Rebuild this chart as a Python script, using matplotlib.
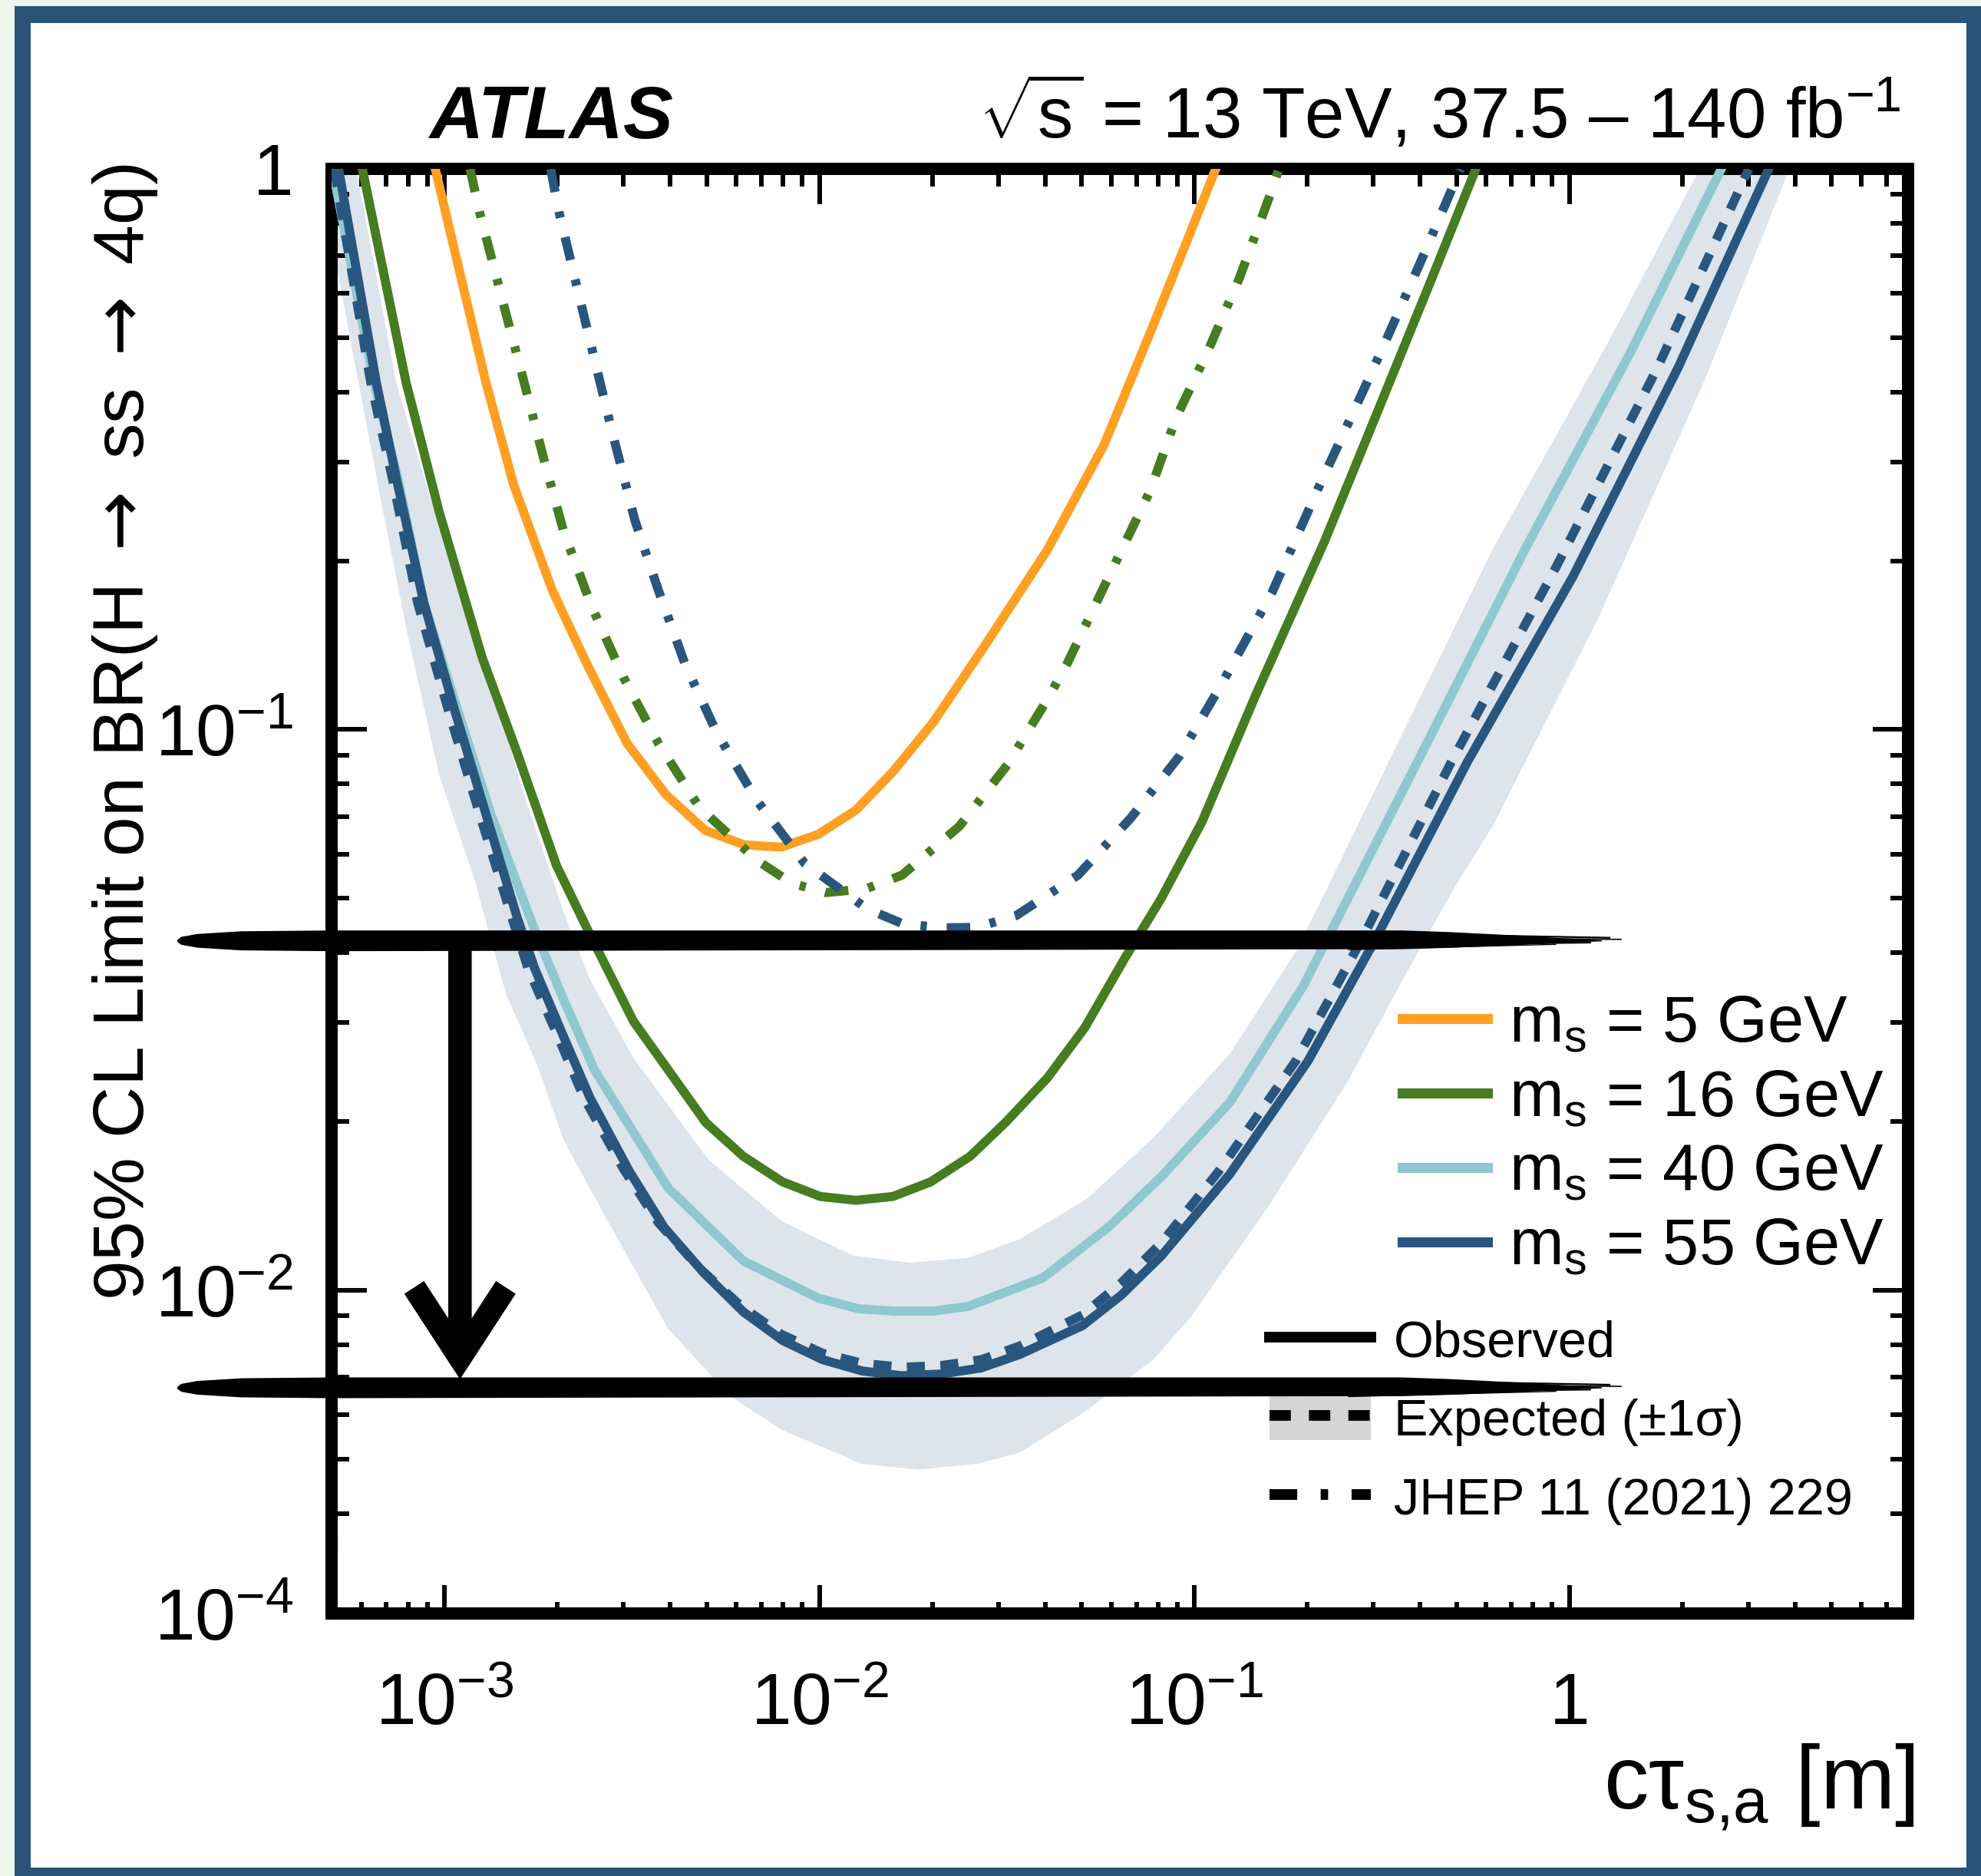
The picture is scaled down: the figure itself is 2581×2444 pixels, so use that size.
import numpy as np
import matplotlib
matplotlib.use("Agg")
import matplotlib.pyplot as plt
from matplotlib.lines import Line2D
from matplotlib.patches import Patch, Polygon, Rectangle
from matplotlib.transforms import IdentityTransform
from matplotlib.ticker import LogLocator, NullLocator, NullFormatter

plt.rcParams["font.family"] = ["Liberation Sans", "DejaVu Sans"]
plt.rcParams["mathtext.fontset"] = "custom"
plt.rcParams["mathtext.rm"] = "Liberation Sans"
plt.rcParams["mathtext.it"] = "Liberation Sans:italic"
plt.rcParams["mathtext.bf"] = "Liberation Sans:bold"
plt.rcParams["mathtext.sf"] = "DejaVu Sans"

# ---------------------------------------------------------------- data
# observed limits, m_s = 5 GeV
obs_5_x = [9.45e-4, 1.29e-3, 1.53e-3, 1.94e-3, 2.41e-3, 3.07e-3, 3.90e-3, 4.96e-3,
           6.30e-3, 7.90e-3, 9.95e-3, 1.25e-2, 1.57e-2, 2.01e-2, 2.70e-2, 4.05e-2,
           5.74e-2, 7.61e-2, 0.114]
obs_5_y = [1.0, 0.416, 0.273, 0.177, 0.130, 0.0945, 0.0765, 0.0661, 0.0623, 0.0617,
           0.0651, 0.0718, 0.0841, 0.103, 0.138, 0.209, 0.322, 0.509, 1.0]

# observed limits, m_s = 16 GeV
obs_16_x = [6.04e-4, 7.90e-4, 9.68e-4, 1.26e-3, 1.56e-3, 1.99e-3, 2.44e-3, 3.19e-3,
            4.98e-3, 6.27e-3, 7.97e-3, 1.005e-2, 1.25e-2, 1.57e-2, 1.98e-2, 2.52e-2,
            3.13e-2, 4.05e-2, 5.10e-2, 6.49e-2, 8.17e-2, 0.105, 0.146, 0.222, 0.307,
            0.425, 0.563]
obs_16_y = [1.0, 0.416, 0.2445, 0.1346, 0.0912, 0.0572, 0.0432, 0.0302, 0.0199,
            0.01733, 0.01561, 0.0147, 0.01447, 0.0147, 0.01561, 0.01733, 0.0199,
            0.0239, 0.0294, 0.0389, 0.0501, 0.0687, 0.1156, 0.2162, 0.3673, 0.6266, 1.0]

# observed limits, m_s = 40 GeV
obs_40_x = [5.03e-4, 6.49e-4, 7.54e-4, 8.81e-4, 1.08e-3, 1.33e-3, 1.72e-3, 2.07e-3,
            2.51e-3, 3.95e-3, 6.27e-3, 9.91e-3, 1.27e-2, 1.59e-2, 2.01e-2, 2.49e-2,
            3.94e-2, 5.90e-2, 8.17e-2, 0.1242, 0.1951, 0.2247, 0.4146, 0.7647, 1.464,
            2.541]
obs_40_y = [1.0, 0.416, 0.2773, 0.1684, 0.1093, 0.0707, 0.0448, 0.0332, 0.02475,
            0.01522, 0.01128, 0.00969, 0.00927, 0.00918, 0.00918, 0.00936, 0.01052,
            0.01296, 0.01596, 0.02162, 0.0349, 0.042, 0.0939, 0.2108, 0.4745, 1.0]

# observed limits, m_s = 55 GeV
obs_55_x = [5.22e-4, 6.58e-4, 7.47e-4, 8.81e-4, 1.06e-3, 1.29e-3, 1.56e-3, 1.74e-3,
            2.08e-3, 2.44e-3, 3.11e-3, 3.85e-3, 4.91e-3, 6.27e-3, 7.97e-3, 1.02e-2,
            1.30e-2, 1.66e-2, 2.11e-2, 2.70e-2, 3.43e-2, 5.03e-2, 6.39e-2, 8.17e-2,
            0.1242, 0.2008, 0.3024, 0.5346, 1.024, 1.951, 3.401]
obs_55_y = [1.0, 0.416, 0.2773, 0.1684, 0.1093, 0.0707, 0.0464, 0.0375, 0.0283,
            0.0221, 0.01632, 0.01296, 0.01075, 0.00915, 0.00814, 0.00752, 0.00718,
            0.00704, 0.00709, 0.00727, 0.00769, 0.00865, 0.00981, 0.01153, 0.01611,
            0.02564, 0.042, 0.0876, 0.188, 0.4427, 1.0]

# expected limits, m_s = 55 GeV, with the +-1 sigma envelope
exp_55_x = [5.08e-4, 6.36e-4, 7.29e-4, 8.48e-4, 1.02e-3, 1.24e-3, 1.51e-3, 1.67e-3,
            2.01e-3, 2.35e-3, 3.00e-3, 3.72e-3, 4.78e-3, 6.16e-3, 7.90e-3, 1.02e-2,
            1.30e-2, 1.66e-2, 2.11e-2, 2.70e-2, 3.43e-2, 5.03e-2, 6.39e-2, 8.17e-2,
            0.1162, 0.1862, 0.2791, 0.4843, 0.9274, 1.719, 3.009]
exp_55_y = [1.0, 0.416, 0.2773, 0.1684, 0.1093, 0.0707, 0.0464, 0.0375, 0.0283,
            0.0221, 0.01647, 0.0132, 0.01096, 0.00939, 0.00835, 0.00772, 0.00741,
            0.00729, 0.00734, 0.00752, 0.00796, 0.00904, 0.01032, 0.01216, 0.01632,
            0.02564, 0.0422, 0.0876, 0.1966, 0.4427, 1.0]
band_hi_x = [5.82e-4, 7.43e-4, 9.68e-4, 1.29e-3, 1.64e-3, 2.08e-3, 2.44e-3, 3.19e-3,
             5.05e-3, 7.97e-3, 1.23e-2, 1.75e-2, 2.49e-2, 3.43e-2, 5.17e-2, 7.72e-2,
             0.1242, 0.1879, 0.3434, 0.627, 1.283, 2.226]
band_hi_y = [1.0, 0.416, 0.2288, 0.1304, 0.0755, 0.0472, 0.0359, 0.02597, 0.01711,
             0.01325, 0.01153, 0.0112, 0.01142, 0.01235, 0.01456, 0.01863, 0.02638,
             0.0405, 0.0927, 0.2108, 0.4975, 1.0]
band_lo_x = [4.60e-4, 5.90e-4, 6.77e-4, 7.97e-4, 9.68e-4, 1.21e-3, 1.46e-3, 1.76e-3,
             2.08e-3, 2.69e-3, 3.95e-3, 5.79e-3, 7.97e-3, 1.30e-2, 1.84e-2, 2.63e-2,
             3.43e-2, 5.03e-2, 7.76e-2, 9.77e-2, 0.1579, 0.2553, 0.3667, 0.4889, 0.627,
             1.202, 2.301, 3.863]
band_lo_y = [1.0, 0.416, 0.2563, 0.148, 0.083, 0.0533, 0.0337, 0.0254, 0.01851,
             0.0135, 0.00854, 0.00647, 0.00563, 0.0049, 0.00479, 0.0049, 0.00514,
             0.00603, 0.00752, 0.00895, 0.01416, 0.02347, 0.0367, 0.0517, 0.0676,
             0.1596, 0.4222, 1.0]

# previous result (JHEP 11 (2021) 229), m_s = 16 and 55 GeV
jhep_16_x = [1.17e-3, 1.24e-3, 1.46e-3, 1.62e-3, 1.84e-3, 2.08e-3, 2.47e-3, 3.00e-3,
             3.72e-3, 4.78e-3, 6.80e-3, 8.44e-3, 1.04e-2, 1.33e-2, 1.66e-2, 2.36e-2,
             3.17e-2, 4.05e-2, 4.58e-2, 5.90e-2, 7.61e-2, 8.93e-2, 0.1088, 0.132,
             0.158, 0.168]
jhep_16_y = [1.0, 0.838, 0.5505, 0.4235, 0.304, 0.2252, 0.1658, 0.124, 0.0945, 0.0727,
             0.0585, 0.0532, 0.0512, 0.052, 0.055, 0.0672, 0.0865, 0.1131, 0.1312,
             0.1869, 0.2662, 0.3594, 0.4745, 0.6406, 0.887, 1.0]
jhep_55_x = [1.92e-3, 2.02e-3, 2.25e-3, 2.51e-3, 2.79e-3, 3.22e-3, 3.72e-3, 4.39e-3,
             5.32e-3, 6.80e-3, 9.14e-3, 1.34e-2, 1.66e-2, 2.11e-2, 2.63e-2, 3.35e-2,
             4.89e-2, 6.77e-2, 9.10e-2, 0.1162, 0.1609, 0.2154, 0.2791, 0.3276,
             0.3992, 0.5124]
jhep_55_y = [1.0, 0.838, 0.6207, 0.4583, 0.3428, 0.2361, 0.1771, 0.1304, 0.0988,
             0.0748, 0.0577, 0.0479, 0.0451, 0.0443, 0.0444, 0.0466, 0.055, 0.0696,
             0.0895, 0.1182, 0.1754, 0.2722, 0.3963, 0.5023, 0.6781, 1.0]

masses = [5, 16, 40, 55]
mass_colors = ["#ffa024", "#457d20", "#8fc8cf", "#29567f"]
x_ticks = [1e-3, 1e-2, 1e-1, 1]
x_ticklabels = [r"$10^{-3}$", r"$10^{-2}$", r"$10^{-1}$", "1"]
y_ticks = [1e-2, 1e-1, 1]
y_ticklabels = [r"$10^{-2}$", r"$10^{-1}$", "1"]

# best limits: previous round vs. this result, and where the marker sits
old_best = 0.042
new_best = 0.0067
marker_span = (1.94e-4, 1.22)
arrow_x = 1.10e-3

# ---------------------------------------------------------------- figure
W, H = 2581, 2444
fig = plt.figure(figsize=(W / 100, H / 100), dpi=100)
fig.patch.set_facecolor("#eef6ee")
frame_blue = "#2b5279"
fig.add_artist(Rectangle((19 / W, 0), 1, (H - 8) / H, transform=fig.transFigure,
                         facecolor=frame_blue, edgecolor="none", zorder=-20))
fig.add_artist(Rectangle((40 / W, (H - 2433) / H), (2562 - 40) / W, (2433 - 30) / H,
                         transform=fig.transFigure, facecolor="white",
                         edgecolor="none", zorder=-19))

left, right, top, brk, bot = 432, 2486, 220, 2014, 2102
ax = fig.add_axes([left / W, 1 - brk / H, (right - left) / W, (brk - top) / H])
axb = fig.add_axes([left / W, 1 - bot / H, (right - left) / W, (bot - brk) / H])
for a in (ax, axb):
    a.set_facecolor("none")
    a.set_xscale("log")
    a.set_yscale("log")
    a.set_xlim(5e-4, 8)
    for s in a.spines.values():
        s.set_linewidth(11.5)
        s.set_capstyle("projecting")
ax.set_ylim(0.0035, 1)
axb.set_ylim(1e-4, 1.6e-4)
ax.spines["bottom"].set_visible(False)
axb.spines["top"].set_visible(False)

# ticks
for a in (ax, axb):
    a.xaxis.set_major_locator(LogLocator(base=10, numticks=20))
    a.xaxis.set_minor_locator(LogLocator(base=10, subs=np.arange(2, 10), numticks=20))
ax.yaxis.set_major_locator(LogLocator(base=10, numticks=20))
ax.yaxis.set_minor_locator(LogLocator(base=10, subs=np.arange(2, 10), numticks=20))
ax.set_yticks(y_ticks)
ax.set_yticklabels(y_ticklabels)
ax.yaxis.set_minor_formatter(NullFormatter())
ax.tick_params(axis="both", which="both", direction="in", width=4.3, labelsize=68)
ax.tick_params(axis="both", which="major", length=33)
ax.tick_params(axis="both", which="minor", length=16.5)
ax.tick_params(axis="x", which="both", bottom=False, top=True,
               labelbottom=False, labeltop=False)
ax.tick_params(axis="y", which="both", left=True, right=True, pad=36)

axb.set_xticks(x_ticks)
axb.set_xticklabels(x_ticklabels)
axb.xaxis.set_minor_formatter(NullFormatter())
axb.set_yticks([1e-4])
axb.set_yticklabels([r"$10^{-4}$"])
axb.yaxis.set_minor_locator(NullLocator())
axb.tick_params(axis="x", which="both", direction="in", width=4.3, labelsize=68,
                top=False, bottom=True)
axb.tick_params(axis="x", which="major", length=27, pad=104)
axb.tick_params(axis="x", which="minor", length=11)
axb.tick_params(axis="y", which="both", length=0, labelsize=68, pad=36)
for lab in axb.get_xticklabels():
    lab.set_verticalalignment("baseline")

# ---------------------------------------------------------------- curves
lw = 8.5
dashed = (0, (2.0, 1.7))
dashdot = (0, (2.6, 2.2, 0.7, 2.2))
band_color = "#dde4eb"

ax.fill(np.concatenate([band_hi_x, band_lo_x[::-1]]),
        np.concatenate([band_hi_y, band_lo_y[::-1]]),
        color=band_color, lw=0, zorder=1)
ax.plot(obs_40_x, obs_40_y, color=mass_colors[2], lw=lw, zorder=3)
ax.plot(obs_55_x, obs_55_y, color=mass_colors[3], lw=lw, zorder=4)
ax.plot(exp_55_x, exp_55_y, color=mass_colors[3], lw=lw, ls=dashed, zorder=5)
ax.plot(obs_16_x, obs_16_y, color=mass_colors[1], lw=lw, zorder=4)
ax.plot(obs_5_x, obs_5_y, color=mass_colors[0], lw=lw, zorder=4)
ax.plot(jhep_16_x, jhep_16_y, color=mass_colors[1], lw=lw, ls=dashdot, zorder=4)
ax.plot(jhep_55_x, jhep_55_y, color=mass_colors[3], lw=lw, ls=dashdot, zorder=4)

# ---------------------------------------------------------------- legends
h_mass = [Line2D([], [], color=c, lw=9.4) for c in mass_colors]
l_mass = [r"$\mathrm{m_s}$ = %d GeV" % m for m in masses]
leg1 = ax.legend(h_mass, l_mass, loc="upper left", bbox_to_anchor=(0.679, 0.401),
                 frameon=False, fontsize=61, handlelength=1.32, handletextpad=0.33,
                 labelspacing=0.2, borderpad=0, borderaxespad=0)
ax.add_artist(leg1)

h_obs = Line2D([], [], color="k", lw=10)
h_exp = (Patch(facecolor="#d5d5d5", edgecolor="none"),
         Line2D([], [], color="k", lw=10, ls=dashed))
h_old = Line2D([], [], color="k", lw=10, ls=dashdot)
leg2 = ax.legend([h_obs, h_exp, h_old],
                 ["Observed", "Expected (\u00b11\u03c3)", "JHEP 11 (2021) 229"],
                 loc="upper left", bbox_to_anchor=(0.595, 0.166), frameon=False,
                 fontsize=48, handlelength=1.98, handletextpad=0.45,
                 labelspacing=0.55, handleheight=0.95, borderpad=0, borderaxespad=0)

# ---------------------------------------------------------------- text
fig.text(560 / W, 1 - 180 / H, "ATLAS", fontsize=70, fontweight="bold",
         fontstyle="italic", ha="left", va="baseline")
fig.text(2477 / W, 1 - 180 / H,
         r"$\sqrt{\mathrm{s}}$ = 13 TeV, 37.5 " + "\u2013" + r" 140 fb$^{-1}$",
         fontsize=66.5, ha="right", va="baseline")
fig.text(163 / W, 1 - 214 / H,
         r"95% CL Limit on BR(H $\mathsf{\rightarrow}$ ss "
         r"$\mathsf{\rightarrow}$ 4q)",
         fontsize=67, rotation=90, ha="center", va="top")
fig.text(2494 / W, 1 - 2357 / H, r"$\mathrm{c\tau_{s{,}a}}$ [m]", fontsize=84,
         ha="right", va="baseline")


# ---------------------------------------------------------------- brush marks
def brush_stroke(axis, level, span, half=13.5):
    xa, yc = axis.transData.transform((span[0], level))
    xb, _ = axis.transData.transform((span[1], level))
    prof_l = [(0, 0.1), (5, 0.38), (26, 0.66), (83, 0.92), (200, 1.0)]
    prof_r = [(260, 1.0), (200, 0.85), (120, 0.55), (50, 0.25), (0, 0.06)]
    upper = [(xa + d, yc + f * half) for d, f in prof_l] + \
            [(xb - d, yc + f * half) for d, f in prof_r]
    lower = [(xb - d, yc - f * half * 0.8) for d, f in prof_r[::-1]] + \
            [(xa + d, yc - f * half) for d, f in prof_l[::-1]]
    fig.add_artist(Polygon(upper + lower, closed=True, transform=IdentityTransform(),
                           facecolor="black", edgecolor="none", zorder=30))
    for dy, x_end, w in [(0.75, 10, 1.6), (0.35, 25, 1.2), (-0.45, -15, 1.4),
                         (-0.85, -60, 1.0)]:
        fig.add_artist(Line2D([xb - 330, xb + x_end],
                              [yc + dy * half, yc + dy * half * 0.4],
                              transform=IdentityTransform(), color="black", lw=w,
                              zorder=30))


brush_stroke(ax, old_best, marker_span)
brush_stroke(ax, new_best, marker_span)
ax.annotate("", xy=(arrow_x, new_best), xytext=(arrow_x, old_best),
            arrowprops=dict(arrowstyle="->,head_length=66,head_width=43",
                            mutation_scale=1, lw=22, color="black", shrinkA=0,
                            shrinkB=8, joinstyle="miter", capstyle="butt"),
            annotation_clip=False, zorder=31)

fig.savefig("out.png", dpi=100, facecolor=fig.get_facecolor())
